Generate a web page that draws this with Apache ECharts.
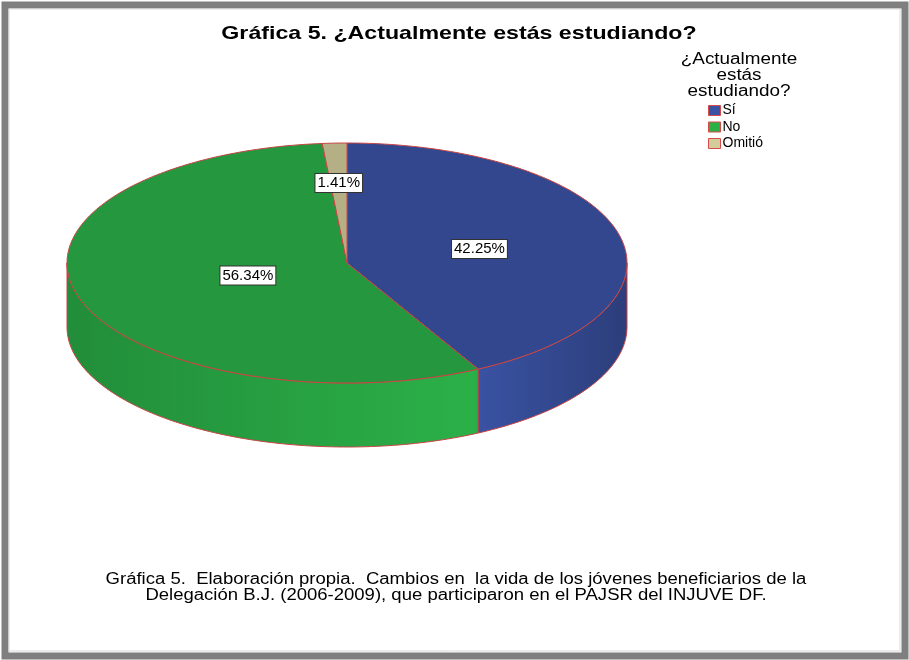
<!DOCTYPE html>
<html>
<head>
<meta charset="utf-8">
<script src="https://cdn.jsdelivr.net/npm/echarts@6/dist/echarts.min.js"></script>
<style>
  html, body { margin: 0; padding: 0; background: #fff; }
  #chart { width: 909px; height: 660px; }
</style>
</head>
<body>
<div id="chart"></div>
<script>
const categories = ['Sí', 'No', 'Omitió'];
const percentages = [42.25, 56.34, 1.41];
const colors = ['#3a53a4', '#2bb048', '#d3cc9b'];

const chartTitle = 'Gráfica 5. ¿Actualmente estás estudiando?';
const legendTitle = '¿Actualmente\nestás\nestudiando?';
const footnote = 'Gráfica 5.  Elaboración propia.  Cambios en  la vida de los jóvenes beneficiarios de la\nDelegación B.J. (2006-2009), que participaron en el PAJSR del INJUVE DF.';

// pie geometry (pixels)
const cx = 347, cy = 263, rx = 280, ry = 120, depth = 64;
const edge = '#c84444';
const font = '"Liberation Sans", Arial, sans-serif';

const total = percentages.reduce((a, b) => a + b, 0);
const starts = [];
let acc = 0;
percentages.forEach(v => { starts.push(acc / total * Math.PI * 2); acc += v; });

function shade(hex, k) {
    const n = parseInt(hex.slice(1), 16);
    const r = Math.min(255, Math.round((n >> 16) * k));
    const g = Math.min(255, Math.round(((n >> 8) & 255) * k));
    const b = Math.min(255, Math.round((n & 255) * k));
    return 'rgb(' + r + ',' + g + ',' + b + ')';
}

// angle measured clockwise from 12 o'clock
function arc(a0, a1, dy) {
    const pts = [];
    const steps = Math.max(2, Math.ceil(Math.abs(a1 - a0) / 0.02));
    for (let k = 0; k <= steps; k++) {
        const t = a0 + (a1 - a0) * k / steps;
        pts.push([cx + rx * Math.sin(t), cy - ry * Math.cos(t) + dy]);
    }
    return pts;
}

function renderSlice(params, api) {
    const i = params.seriesIndex;
    const a0 = starts[i];
    const a1 = a0 + percentages[i] / total * Math.PI * 2;
    const base = colors[i];
    const children = [];

    // visible front wall
    const s0 = Math.max(a0, Math.PI / 2), s1 = Math.min(a1, Math.PI * 1.5);
    if (s1 > s0) {
        children.push({
            type: 'polygon',
            shape: { points: arc(s0, s1, 0).concat(arc(s1, s0, depth)) },
            style: {
                fill: {
                    type: 'linear', x: cx - rx, y: 0, x2: cx + rx, y2: 0, global: true,
                    colorStops: [
                        { offset: 0, color: shade(base, 0.8) },
                        { offset: 0.72, color: shade(base, 1.0) },
                        { offset: 1, color: shade(base, 0.75) }
                    ]
                },
                stroke: edge, lineWidth: 1
            }
        });
    }

    // top face
    children.push({
        type: 'polygon',
        shape: { points: [[cx, cy]].concat(arc(a0, a1, 0)) },
        style: { fill: shade(base, 0.86), stroke: edge, lineWidth: 1 }
    });

    // label at sector centroid
    const half = (a1 - a0) / 2;
    const mid = a0 + half;
    const f = 2 * Math.sin(half) / (3 * half);
    children.push({
        type: 'text',
        z2: 10,
        style: {
            text: percentages[i].toFixed(2) + '%',
            x: cx + rx * f * Math.sin(mid),
            y: cy - ry * f * Math.cos(mid),
            align: 'center',
            verticalAlign: 'middle',
            font: '15px ' + font,
            fill: '#000',
            backgroundColor: '#fff',
            borderColor: '#333',
            borderWidth: 1,
            padding: [2, 2, 1, 2]
        }
    });
    return { type: 'group', children: children };
}

// SPSS text is drawn a bit wide, so stretch it horizontally
function wideText(text, x, y, size, weight, stretch) {
    return {
        type: 'text', silent: true,
        x: x, y: y, scaleX: stretch,
        style: {
            text: text, x: 0, y: 0,
            align: 'center', verticalAlign: 'top',
            font: weight + ' ' + size + 'px ' + font,
            lineHeight: 16,
            fill: '#000'
        }
    };
}

const chart = echarts.init(document.getElementById('chart'));
chart.setOption({
    animation: false,
    textStyle: { fontFamily: font },
    legend: {
        orient: 'vertical',
        left: 708, top: 103,
        itemWidth: 12, itemHeight: 10, itemGap: 1.5,
        icon: 'rect',
        padding: 0,
        data: categories,
        itemStyle: { borderColor: '#d84a4a', borderWidth: 1 },
        textStyle: { fontSize: 14, color: '#000', lineHeight: 15, padding: [0, 0, 0, -3] }
    },
    graphic: [
        {
            type: 'rect', silent: true,
            shape: { x: 5, y: 5, width: 900, height: 651 },
            style: { fill: null, stroke: '#7f7f7f', lineWidth: 7 }
        },
        {
            type: 'rect', silent: true,
            shape: { x: 9, y: 9, width: 891, height: 642 },
            style: { fill: null, stroke: '#d9d9d9', lineWidth: 1 }
        },
        wideText(chartTitle, 459, 26, 19, 'bold', 1.22),
        wideText(legendTitle, 739, 52, 16, 'normal', 1.18),
        wideText(footnote, 456, 572, 16, 'normal', 1.157)
    ],
    series: categories.map((name, i) => ({
        name: name,
        type: 'custom',
        coordinateSystem: 'none',
        z: 2 + i,
        itemStyle: { color: colors[i] },
        data: [percentages[i]],
        renderItem: renderSlice
    }))
});
</script>
</body>
</html>
